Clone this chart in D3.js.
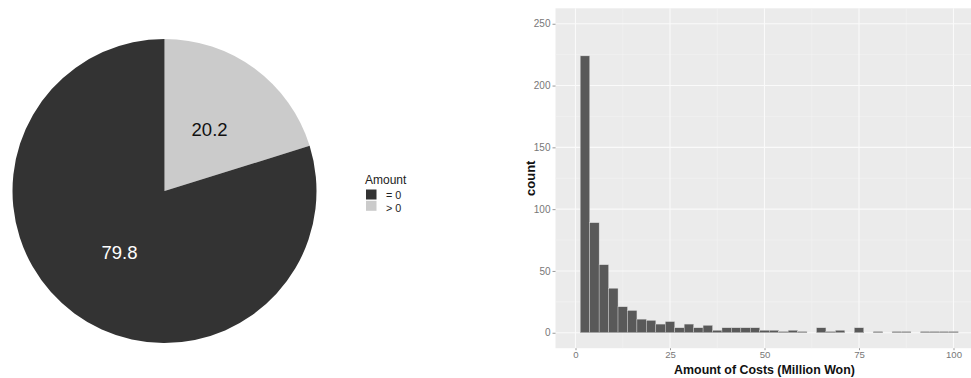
<!DOCTYPE html>
<html>
<head>
<meta charset="utf-8">
<script src="https://cdn.jsdelivr.net/npm/d3@7"></script>
<style>
  html, body { margin: 0; padding: 0; background: #ffffff; }
  svg { display: block; font-family: "Liberation Sans", Arial, sans-serif; }
</style>
</head>
<body>
<svg id="chart" width="971" height="378"></svg>
<script>
// ---- Pie data ----
const pieCategories = ["> 0", "= 0"];
const pieValues = [20.2, 79.8];
const pieLabels = ["20.2", "79.8"];
const legendTitle = "Amount";
const legendCategories = ["= 0", "> 0"];

// ---- Histogram data (bin centres, width 2.5, counts) ----
const binCenters = [2.5, 5, 7.5, 10, 12.5, 15, 17.5, 20, 22.5, 25,
                    27.5, 30, 32.5, 35, 37.5, 40, 42.5, 45, 47.5, 50,
                    52.5, 55, 57.5, 60, 62.5, 65, 67.5, 70, 72.5, 75,
                    77.5, 80, 82.5, 85, 87.5, 90, 92.5, 95, 97.5, 100];
const binCounts = [224, 89, 55, 36, 21, 18, 11, 10, 7, 9,
                   4, 7, 4, 6, 2, 4, 4, 4, 4, 2,
                   2, 1, 2, 1, 0, 4, 1, 2, 0, 4,
                   0, 1, 0, 1, 1, 0, 1, 1, 1, 1];
const binWidth = 2.5;
const xTicks = [0, 25, 50, 75, 100];
const xMinor = [12.5, 37.5, 62.5, 87.5];
const yTicks = [0, 50, 100, 150, 200, 250];
const yMinor = [25, 75, 125, 175, 225];
const xTitle = "Amount of Costs (Million Won)";
const yTitle = "count";

const svg = d3.select("#chart");

// ================= PIE =================
const colorScale = d3.scaleOrdinal()
  .domain(["= 0", "> 0"])
  .range(["#333333", "#cbcbcb"]);

const pieR = 152;
const pieG = svg.append("g").attr("transform", "translate(164.5,191)");
const pie = d3.pie().sort(null).value(d => d.v);
const arcs = pie(pieCategories.map((c, i) => ({ c, v: pieValues[i], label: pieLabels[i] })));
const arc = d3.arc().innerRadius(0).outerRadius(pieR);

pieG.selectAll("path").data(arcs).join("path")
  .attr("d", arc)
  .attr("fill", d => colorScale(d.data.c));

pieG.selectAll("text").data(arcs).join("text")
  .attr("transform", d => `translate(${arc.centroid(d)})`)
  .attr("text-anchor", "middle")
  .attr("dy", "0.36em")
  .attr("font-size", 18.5)
  .attr("fill", d => d.data.c === "= 0" ? "#ffffff" : "#111111")
  .text(d => d.data.label);

// Legend
const legG = svg.append("g").attr("transform", "translate(365,0)");
legG.append("text").attr("x", 0).attr("y", 183.5)
  .attr("font-size", 12).attr("fill", "#222").text(legendTitle);
legendCategories.forEach((c, i) => {
  legG.append("rect").attr("x", 1).attr("y", 189.5 + i * 11.3)
    .attr("width", 10.5).attr("height", 10)
    .attr("fill", colorScale(c));
  legG.append("text").attr("x", 21).attr("y", 199 + i * 13)
    .attr("font-size", 10.8).attr("fill", "#222").text(c);
});

// ================= HISTOGRAM =================
const x = d3.scaleLinear().domain([-5, 105]).range([556.6, 972.4]);
const y = d3.scaleLinear().domain([-12.5, 262.5]).range([348.2, 8.3]);

const panelL = 555.5, panelR = 971, panelT = 8.3, panelB = 348.2;
const hg = svg.append("g");
hg.append("rect").attr("x", panelL).attr("y", panelT)
  .attr("width", panelR - panelL).attr("height", panelB - panelT)
  .attr("fill", "#ebebeb");

// minor grid
hg.selectAll("line.xminor").data(xMinor).join("line")
  .attr("x1", d => x(d)).attr("x2", d => x(d))
  .attr("y1", panelT).attr("y2", panelB)
  .attr("stroke", "#f4f4f4").attr("stroke-width", 0.6);
hg.selectAll("line.yminor").data(yMinor).join("line")
  .attr("x1", panelL).attr("x2", panelR)
  .attr("y1", d => y(d)).attr("y2", d => y(d))
  .attr("stroke", "#f4f4f4").attr("stroke-width", 0.6);
// major grid
hg.selectAll("line.xmajor").data(xTicks).join("line")
  .attr("x1", d => x(d)).attr("x2", d => x(d))
  .attr("y1", panelT).attr("y2", panelB)
  .attr("stroke", "#fafafa").attr("stroke-width", 1.1);
hg.selectAll("line.ymajor").data(yTicks).join("line")
  .attr("x1", panelL).attr("x2", panelR)
  .attr("y1", d => y(d)).attr("y2", d => y(d))
  .attr("stroke", "#fafafa").attr("stroke-width", 1.1);

// bars
hg.selectAll("rect.bar").data(binCenters.map((c, i) => ({ c, n: binCounts[i] })).filter(d => d.n > 0))
  .join("rect").attr("class", "bar")
  .attr("x", d => x(d.c - binWidth / 2))
  .attr("width", d => x(d.c + binWidth / 2) - x(d.c - binWidth / 2))
  .attr("y", d => y(d.n))
  .attr("height", d => y(0) - y(d.n))
  .attr("fill", "#595959")
  .attr("stroke", "#d9d9d9")
  .attr("stroke-width", 0.4);

// axes
const xAxis = d3.axisBottom(x).tickValues(xTicks).tickSize(2).tickPadding(1).tickFormat(d3.format("d"));
const xa = svg.append("g").attr("transform", `translate(0,${panelB})`).call(xAxis);
xa.select(".domain").remove();
xa.selectAll("line").attr("stroke", "#999");
xa.selectAll("text").attr("font-size", 9.6).attr("fill", "#777")
  .attr("font-family", "Liberation Sans, Arial, sans-serif");

const yAxis = d3.axisLeft(y).tickValues(yTicks).tickSize(3).tickPadding(2).tickFormat(d3.format("d"));
const ya = svg.append("g").attr("transform", `translate(${panelL},0)`).call(yAxis);
ya.select(".domain").remove();
ya.selectAll("line").attr("stroke", "#999");
ya.selectAll("text").attr("font-size", 10).attr("fill", "#777")
  .attr("font-family", "Liberation Sans, Arial, sans-serif");

svg.append("text")
  .attr("x", (x(0) + x(100)) / 2 + 0).attr("y", 374)
  .attr("text-anchor", "middle")
  .attr("font-size", 12.4).attr("font-weight", "bold").attr("fill", "#111")
  .text(xTitle);

svg.append("text")
  .attr("transform", `translate(535,${(panelT + panelB) / 2}) rotate(-90)`)
  .attr("text-anchor", "middle")
  .attr("font-size", 13).attr("font-weight", "bold").attr("fill", "#111")
  .text(yTitle);
</script>
</body>
</html>
